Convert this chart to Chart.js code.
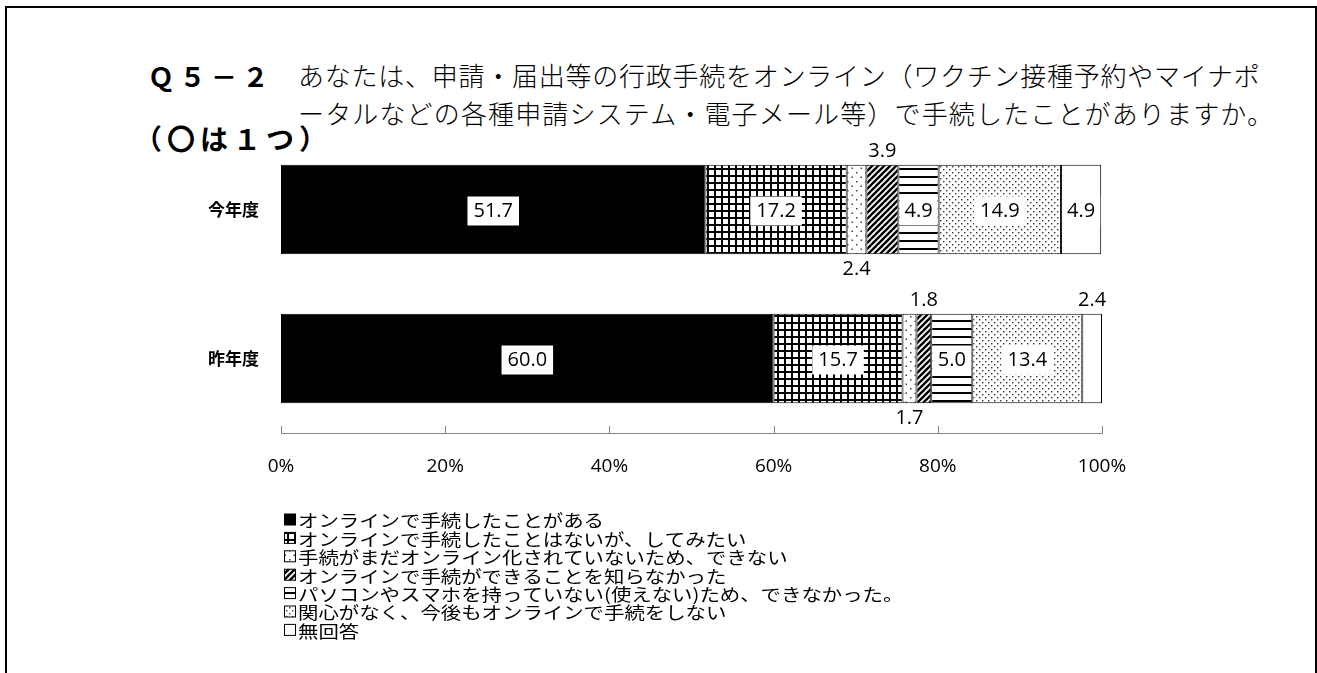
<!DOCTYPE html>
<html lang="ja">
<head>
<meta charset="UTF-8">
<title>Q5-2 行政手続のオンライン利用</title>
<script src="https://cdn.jsdelivr.net/npm/chart.js"></script>
<style>
  body { margin: 0; background: #fff; width: 1317px; height: 673px; overflow: hidden; position: relative; font-family: "Noto Sans CJK JP", sans-serif; color: #000; }
  #frame { position: absolute; left: 5px; top: 6px; width: 1308px; height: 720px; border: 2px solid #000; border-right-width: 3px; border-bottom: none; }
  #qno { position: absolute; left: 148px; top: 57px; font-size: 26px; font-weight: bold; letter-spacing: 5.5px; line-height: 38px; }
  #question { position: absolute; left: 298px; top: 56px; font-size: 26px; font-weight: 300; line-height: 38px; white-space: nowrap; }
  #question .l1 { letter-spacing: 0.75px; }
  #question .l2 { letter-spacing: 1.15px; }
  #note { position: absolute; left: 134px; top: 119px; font-size: 28px; font-weight: bold; line-height: 38px; letter-spacing: 5px; }
  #chart { position: absolute; left: 0; top: 0; }
</style>
</head>
<body>
<div id="frame"></div>
<div id="qno">Ｑ５－２</div>
<div id="question"><span class="l1">あなたは、申請・届出等の行政手続をオンライン（ワクチン接種予約やマイナポ</span><br><span class="l2">ータルなどの各種申請システム・電子メール等）で手続したことがありますか。</span></div>
<div id="note">（〇は１つ）</div>
<canvas id="chart" width="1317" height="673"></canvas>

<script>
// survey rows and answer shares (%)
const years = ['今年度', '昨年度'];
const answers = [
  'オンラインで手続したことがある',
  'オンラインで手続したことはないが、してみたい',
  '手続がまだオンライン化されていないため、できない',
  'オンラインで手続ができることを知らなかった',
  'パソコンやスマホを持っていない(使えない)ため、できなかった。',
  '関心がなく、今後もオンラインで手続をしない',
  '無回答'
];
const doneOnline   = [51.7, 60.0];
const wantToTry    = [17.2, 15.7];
const notAvailable = [2.4, 1.7];
const didntKnow    = [3.9, 1.8];
const noDevice     = [4.9, 5.0];
const notInterest  = [14.9, 13.4];
const noAnswer     = [4.9, 2.4];
const xTicks = [0, 20, 40, 60, 80, 100];

// monochrome fill patterns, one per answer
function pattern(kind) {
  const c = document.createElement('canvas');
  const size = { grid: 7, sparse: 9, diag: 6, hlines: 8, dots: 6 }[kind];
  c.width = size; c.height = size;
  const g = c.getContext('2d');
  g.fillStyle = '#fff';
  g.fillRect(0, 0, size, size);
  g.fillStyle = '#000';
  g.strokeStyle = '#000';
  if (kind === 'grid') {
    g.fillRect(0, 0, size, 2);
    g.fillRect(0, 0, 2, size);
  } else if (kind === 'sparse') {
    g.fillStyle = '#444';
    g.fillRect(1, 1, 1.5, 1.5);
    g.fillRect(5.5, 5.5, 1.5, 1.5);
  } else if (kind === 'diag') {
    g.lineWidth = 2.4;
    for (let o = -size; o <= size; o += size) {
      g.beginPath();
      g.moveTo(o - 1, size + 1);
      g.lineTo(o + size + 1, -1);
      g.stroke();
    }
  } else if (kind === 'hlines') {
    g.fillRect(0, 0, size, 2);
  } else if (kind === 'dots') {
    g.fillStyle = '#333';
    g.fillRect(1, 1, 1.4, 1.4);
    g.fillRect(4, 4, 1.4, 1.4);
  }
  return g.createPattern(c, 'repeat');
}

const ctx = document.getElementById('chart').getContext('2d');
const fills = ['#000', pattern('grid'), pattern('sparse'), pattern('diag'), pattern('hlines'), pattern('dots'), '#fff'];
const series = [doneOnline, wantToTry, notAvailable, didntKnow, noDevice, notInterest, noAnswer];

const numFont = '"Open Sans", sans-serif';
const jpFont = '"Noto Sans CJK JP", sans-serif';

// small tick marks pointing up from the axis line
const upTicks = {
  id: 'upTicks',
  afterDraw(chart) {
    const x = chart.scales.x, c = chart.ctx, b = chart.chartArea.bottom;
    c.save();
    c.strokeStyle = '#868686';
    c.lineWidth = 1;
    x.ticks.forEach((t, i) => {
      const px = Math.round(x.getPixelForTick(i)) + 0.5;
      c.beginPath();
      c.moveTo(px, b - 7);
      c.lineTo(px, b);
      c.stroke();
    });
    c.restore();
  }
};

// value labels: boxed inside wide segments, outside for thin ones
const valueLabels = {
  id: 'valueLabels',
  afterDatasetsDraw(chart) {
    const c = chart.ctx;
    c.save();
    c.font = '20px ' + numFont;
    c.textAlign = 'center';
    c.textBaseline = 'middle';
    chart.data.datasets.forEach((ds, di) => {
      chart.getDatasetMeta(di).data.forEach((bar, i) => {
        const v = ds.data[i];
        const txt = v.toFixed(1);
        const cx = (bar.x + bar.base) / 2;
        const w = Math.abs(bar.x - bar.base);
        if (v >= 4) {
          const tw = c.measureText(txt).width;
          const bw = Math.min(tw + 12, w - 2);
          c.fillStyle = '#fff';
          c.fillRect(cx - bw / 2, bar.y - 13, bw, 29);
          c.fillStyle = '#000';
          c.fillText(txt, cx, bar.y + 2);
        } else {
          const y = di === 2 ? bar.y + bar.height / 2 + 15 : bar.y - bar.height / 2 - 14;
          c.fillStyle = '#000';
          c.fillText(txt, cx, y);
        }
      });
    });
    c.restore();
  }
};

// one answer per row under the plot
const listLegend = {
  id: 'listLegend',
  afterDraw(chart) {
    const c = chart.ctx;
    c.save();
    c.font = '17px ' + jpFont;
    c.textBaseline = 'middle';
    chart.data.datasets.forEach((ds, i) => {
      const y = 520 + i * 18.4;
      c.fillStyle = ds.backgroundColor;
      c.fillRect(284.5, y - 6, 11, 11);
      c.strokeStyle = '#000';
      c.lineWidth = 1;
      c.strokeRect(284.5, y - 6, 11, 11);
      c.save();
      c.translate(298, y + 1);
      c.scale(1.2, 1);
      c.fillStyle = '#000';
      c.fillText(ds.label, 0, 0);
      c.restore();
    });
    c.restore();
  }
};

new Chart(ctx, {
  type: 'bar',
  data: {
    labels: years,
    datasets: series.map((d, i) => ({
      label: answers[i],
      data: d,
      backgroundColor: fills[i],
      borderColor: '#000',
      borderWidth: 1,
      borderSkipped: false,
      categoryPercentage: 1,
      barPercentage: 0.6
    }))
  },
  options: {
    indexAxis: 'y',
    responsive: false,
    animation: false,
    layout: { padding: { left: 0, right: 215, top: 135, bottom: 0 } },
    plugins: {
      legend: { display: false },
      tooltip: { enabled: false }
    },
    scales: {
      x: {
        stacked: true,
        min: 0,
        max: 100,
        afterFit(s) { s.height = 240; },
        afterBuildTicks(s) { s.ticks = xTicks.map(v => ({ value: v })); },
        grid: { display: false, drawTicks: false },
        border: { display: true, color: '#868686', width: 1 },
        ticks: {
          padding: 22,
          color: '#000',
          font: { family: numFont, size: 19 },
          callback: v => v + '%'
        }
      },
      y: {
        stacked: true,
        afterFit(s) { s.width = 281; },
        grid: { display: false, drawTicks: false },
        border: { display: false },
        ticks: {
          padding: 22,
          color: '#000',
          font: { family: jpFont, size: 17, weight: 'bold' }
        }
      }
    }
  },
  plugins: [upTicks, valueLabels, listLegend]
});
</script>
</body>
</html>
